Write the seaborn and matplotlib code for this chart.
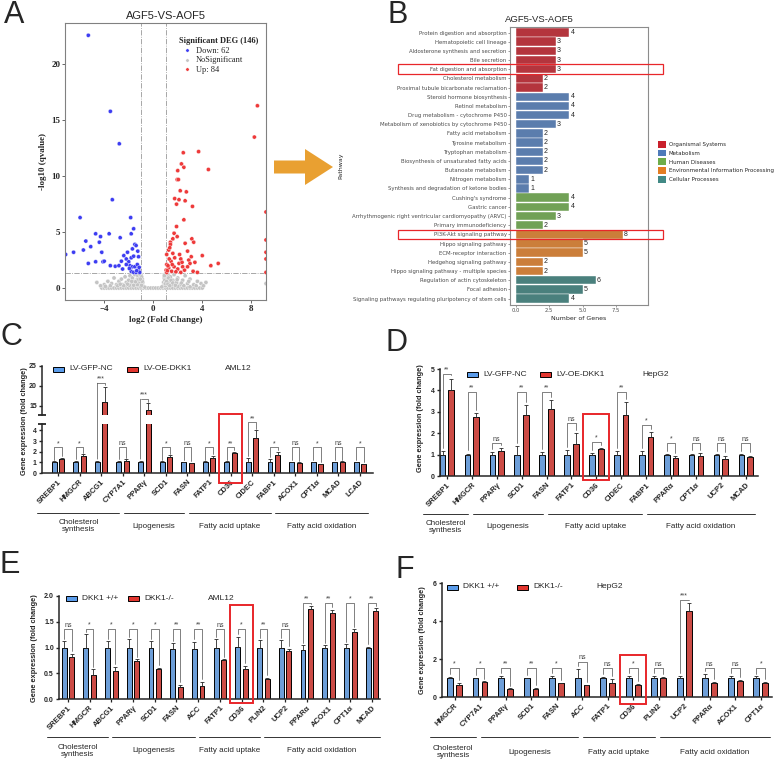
import numpy as np
import pandas as pd
import matplotlib
import matplotlib.pyplot as plt
import matplotlib.transforms as mtransforms
import seaborn as sns
from matplotlib.patches import Rectangle, Patch, FancyArrow, ConnectionPatch
from matplotlib.lines import Line2D

sns.set_style('ticks')
plt.rcParams['font.family'] = ['Liberation Sans', 'DejaVu Sans']


########
# data #
########

# panel A - volcano (log2 fold change, -log10 qvalue)
down_pts = [(-5.3, 22.6), (-3.5, 15.8), (-2.77, 12.9), (-3.34, 7.9), (-5.97, 6.3), (-1.84, 6.3),
            (-1.6, 5.3), (-4.7, 4.85), (-3.6, 4.85), (-4.3, 4.6), (-5.5, 4.2), (-4.4, 4.1),
            (-2.7, 4.5), (-1.8, 4.85), (-1.5, 3.9), (-1.4, 3.8), (-6.5, 3.2), (-5.7, 3.4),
            (-5.1, 3.7), (-4.2, 3.2), (-1.7, 3.5), (-2.1, 3.2), (-1.26, 3.3), (-2.4, 2.9),
            (-1.8, 2.7), (-1.6, 2.85), (-1.2, 2.8), (-5.3, 2.2), (-4.7, 2.35), (-4.1, 2.35),
            (-4.0, 2.4), (-2.2, 2.6), (-2.0, 2.35), (-3.5, 2.0), (-3.1, 1.95), (-2.8, 2.0),
            (-2.6, 2.4), (-1.9, 2.0), (-1.7, 1.9), (-1.5, 1.9), (-1.3, 2.1), (-2.5, 1.7),
            (-1.8, 1.5), (-1.6, 1.4), (-1.4, 1.4), (-1.2, 1.6), (-1.1, 1.4), (-7.15, 3.0),
            (-2.2, 2.1), (-1.35, 1.55), (-1.95, 1.75), (-1.15, 1.85)]
up_pts = [(8.5, 16.3), (8.25, 13.5), (3.7, 12.2), (2.45, 12.1), (2.3, 11.1), (2.5, 10.8),
          (2.0, 10.5), (4.5, 10.6), (1.95, 9.7), (2.05, 9.7), (2.2, 8.7), (2.7, 8.6),
          (1.75, 8.0), (2.1, 7.9), (2.6, 7.8), (1.9, 7.5), (3.2, 7.3), (9.2, 6.8),
          (2.5, 6.1), (1.9, 5.5), (1.7, 4.9), (1.95, 4.6), (1.6, 4.4), (3.15, 4.4),
          (3.3, 4.1), (1.4, 4.1), (9.2, 4.3), (1.4, 3.9), (2.8, 3.3), (1.26, 3.4),
          (1.6, 3.1), (4.0, 2.9), (9.2, 3.2), (1.1, 3.0), (1.75, 2.7), (2.25, 2.6),
          (2.9, 2.5), (9.2, 2.6), (1.45, 2.4), (2.1, 2.2), (3.0, 2.2), (5.3, 2.2),
          (4.7, 2.0), (1.1, 2.1), (1.7, 1.9), (2.4, 1.9), (1.26, 1.8), (2.0, 1.7),
          (1.05, 1.6), (1.5, 1.5), (3.25, 1.5), (3.6, 1.4), (9.2, 1.4), (2.25, 1.4),
          (1.1, 1.4), (2.8, 1.9), (3.1, 2.8), (2.6, 4.0), (1.3, 2.6), (1.2, 2.0),
          (1.55, 2.1), (2.35, 2.3), (3.4, 2.3), (1.15, 1.55), (1.85, 1.45), (2.55, 1.6),
          (1.35, 3.6), (2.15, 3.0)]
grey_pts = [(-4.2, 0.0), (-4.0, 0.0), (-3.8, 0.0), (-3.6, 0.0), (-3.4, 0.0), (-3.2, 0.0),
            (-3.0, 0.0), (-2.8, 0.0), (-2.6, 0.0), (-2.4, 0.0), (-2.2, 0.0), (-2.0, 0.0),
            (-1.8, 0.0), (-1.6, 0.0), (-1.4, 0.0), (-1.2, 0.0), (-1.0, 0.0), (-0.8, 0.0),
            (-0.6, 0.0), (-0.4, 0.0), (-0.2, 0.0), (0.0, 0.0), (0.2, 0.0), (0.4, 0.0),
            (0.6, 0.0), (0.8, 0.0), (1.0, 0.0), (1.2, 0.0), (1.4, 0.0), (1.6, 0.0),
            (1.8, 0.0), (2.0, 0.0), (2.2, 0.0), (2.4, 0.0), (2.6, 0.0), (2.8, 0.0),
            (3.0, 0.0), (3.2, 0.0), (3.4, 0.0), (3.6, 0.0), (3.8, 0.0), (4.0, 0.0),
            (-4.6, 0.5), (-4.0, 0.3), (-3.7, 0.6), (-3.4, 0.4), (-3.2, 0.9), (-3.0, 0.3),
            (-2.8, 0.6), (-2.6, 0.8), (-2.5, 0.3), (-2.3, 1.0), (-2.2, 0.5), (-2.0, 0.7),
            (-1.9, 1.1), (-1.8, 0.4), (-1.7, 0.9), (-1.6, 0.6), (-1.5, 1.2), (-1.4, 0.3),
            (-1.3, 0.8), (-1.25, 1.1), (-1.2, 0.5), (-1.15, 0.2), (-1.1, 0.9), (-1.05, 0.6),
            (-1.0, 1.2), (-0.95, 0.4), (-0.9, 0.8), (-0.9, 0.2), (-0.85, 0.5), (-0.8, 0.15),
            (0.8, 0.15), (0.85, 0.5), (0.9, 0.9), (0.9, 0.3), (0.95, 1.2), (1.0, 0.6),
            (1.05, 1.0), (1.1, 0.3), (1.15, 0.8), (1.2, 1.2), (1.3, 0.5), (1.4, 1.0),
            (1.5, 0.3), (1.6, 0.7), (1.7, 1.2), (1.9, 0.5), (2.0, 0.9), (2.2, 0.3),
            (2.4, 0.7), (2.6, 1.1), (2.8, 0.4), (3.0, 0.8), (3.3, 0.3), (3.6, 0.6),
            (3.9, 0.4), (4.3, 0.5), (-3.9, 0.15), (-2.9, 0.2), (-1.95, 0.25), (-1.0, 0.1),
            (1.0, 0.2), (2.0, 0.15), (3.0, 0.1), (-0.7, 0.08), (0.7, 0.1), (-1.1, 1.25),
            (1.05, 1.3), (0.95, 0.7), (-0.95, 1.0), (9.2, 0.4),
            (-1.0, 0.35), (-1.1, 0.55), (-1.2, 0.75), (-1.3, 0.3), (-1.45, 0.55), (-1.6, 0.25),
            (-1.75, 0.6), (-2.1, 0.35), (-2.4, 0.2), (-2.7, 0.35), (-0.9, 0.6), (-0.95, 0.25),
            (1.0, 0.4), (1.1, 0.6), (1.2, 0.35), (1.25, 0.9), (1.35, 0.2), (1.45, 0.7),
            (1.6, 0.45), (1.8, 0.25), (1.95, 0.75), (2.3, 0.45), (2.5, 0.2), (2.9, 0.6),
            (0.9, 1.1), (-1.05, 0.8), (3.5, 0.2), (-3.5, 0.2), (4.1, 0.2), (-4.3, 0.2)]

# panel B - KEGG pathways
b_pathways = ['Protein digestion and absorption', 'Hematopoietic cell lineage',
              'Aldosterone synthesis and secretion', 'Bile secretion',
              'Fat digestion and absorption', 'Cholesterol metabolism',
              'Proximal tubule bicarbonate reclamation', 'Steroid hormone biosynthesis',
              'Retinol metabolism', 'Drug metabolism - cytochrome P450',
              'Metabolism of xenobiotics by cytochrome P450', 'Fatty acid metabolism',
              'Tyrosine metabolism', 'Tryptophan metabolism',
              'Biosynthesis of unsaturated fatty acids', 'Butanoate metabolism',
              'Nitrogen metabolism', 'Synthesis and degradation of ketone bodies',
              "Cushing's syndrome", 'Gastric cancer',
              'Arrhythmogenic right ventricular cardiomyopathy (ARVC)',
              'Primary immunodeficiency', 'PI3K-Akt signaling pathway',
              'Hippo signaling pathway', 'ECM-receptor interaction',
              'Hedgehog signaling pathway', 'Hippo signaling pathway - multiple species',
              'Regulation of actin cytoskeleton', 'Focal adhesion',
              'Signaling pathways regulating pluripotency of stem cells']
b_counts = [4, 3, 3, 3, 3, 2, 2, 4, 4, 4, 3, 2, 2, 2, 2, 2, 1, 1, 4, 4, 3, 2, 8, 5, 5, 2, 2, 6, 5, 4]
b_categories = ['Organismal Systems', 'Metabolism', 'Human Diseases',
                'Environmental Information Processing', 'Cellular Processes']
b_cat_sizes = [7, 11, 4, 5, 3]

# panel C - AML12, LV-GFP-NC vs LV-OE-DKK1
c_genes = ['SREBP1', 'HMGCR', 'ABCG1', 'CYP7A1', 'PPARγ', 'SCD1', 'FASN', 'FATP1', 'CD36',
           'CIDEC', 'FABP1', 'ACOX1', 'CPT1α', 'MCAD', 'LCAD']
c_ctrl = [1.0] * 15
c_ctrl_err = [0.1, 0.12, 0.15, 0.12, 0.15, 0.08, 0.05, 0.08, 0.1, 0.45, 0.35, 0.06, 0.05, 0.05, 0.05]
c_trt = [1.3, 1.6, 16.0, 1.1, 14.0, 1.5, 0.9, 1.4, 1.9, 3.3, 1.65, 0.95, 0.8, 1.0, 0.8]
c_trt_err = [0.15, 0.15, 3.8, 0.2, 1.7, 0.15, 0.08, 0.2, 0.08, 0.7, 0.35, 0.05, 0.05, 0.1, 0.05]
c_sig = ['*', '*', '***', 'ns', '***', '*', 'ns', '*', '**', '**', '*', 'ns', '*', 'ns', '*']
c_brk = [2.4, 2.4, 20.7, 2.4, 16.7, 2.4, 2.4, 2.4, 2.4, 4.75, 2.4, 2.4, 2.4, 2.4, 2.4]

# panel D - HepG2, LV-GFP-NC vs LV-OE-DKK1
d_genes = ['SREBP1', 'HMGCR', 'PPARγ', 'SCD1', 'FASN', 'FATP1', 'CD36', 'CIDEC', 'FABP1',
           'PPARα', 'CPT1α', 'UCP2', 'MCAD']
d_ctrl = [1.0] * 13
d_ctrl_err = [0.15, 0.05, 0.1, 0.38, 0.1, 0.2, 0.08, 0.18, 0.15, 0.03, 0.05, 0.03, 0.03]
d_trt = [4.0, 2.75, 1.15, 2.85, 3.15, 1.5, 1.25, 2.87, 1.8, 0.82, 0.95, 0.8, 0.88]
d_trt_err = [0.55, 0.2, 0.15, 0.45, 0.4, 0.5, 0.05, 0.58, 0.25, 0.1, 0.12, 0.15, 0.07]
d_sig = ['**', '**', 'ns', '**', '**', 'ns', '*', '**', '*', '*', 'ns', 'ns', 'ns']
d_brk = [4.77, 3.94, 1.53, 3.94, 3.94, 2.46, 1.59, 3.94, 2.4, 1.53, 1.53, 1.53, 1.53]

# panel E - AML12, DKK1 +/+ vs DKK1-/-
e_genes = ['SREBP1', 'HMGCR', 'ABCG1', 'PPARγ', 'SCD1', 'FASN', 'ACC', 'FATP1', 'CD36',
           'PLIN2', 'UCP2', 'PPARα', 'ACOX1', 'CPT1α', 'MCAD']
e_ctrl = [0.99, 0.99, 0.99, 1.0, 1.0, 0.98, 0.97, 1.0, 1.01, 1.0, 0.99, 0.95, 1.0, 1.0, 0.99]
e_ctrl_err = [0.13, 0.27, 0.13, 0.16, 0.12, 0.1, 0.14, 0.16, 0.2, 0.14, 0.15, 0.09, 0.04, 0.06, 0.02]
e_trt = [0.81, 0.47, 0.54, 0.73, 0.59, 0.24, 0.25, 0.75, 0.59, 0.39, 0.94, 1.74, 1.67, 1.3, 1.7]
e_trt_err = [0.07, 0.11, 0.09, 0.04, 0.02, 0.04, 0.08, 0.02, 0.06, 0.02, 0.04, 0.06, 0.06, 0.05, 0.06]
e_sig = ['ns', '*', '*', '*', '*', '**', '**', 'ns', '*', '**', 'ns', '**', '**', '*', '**']
e_brk = [1.36] * 11 + [1.87] * 4

# panel F - HepG2, DKK1 +/+ vs DKK1-/-
f_genes = ['HMGCR', 'CYP7A1', 'PPARγ', 'SCD1', 'FASN', 'ACC', 'FATP1', 'CD36', 'PLIN2',
           'UCP2', 'PPARα', 'ACOX1', 'CPT1α']
f_ctrl = [1.0, 1.0, 1.0, 1.0, 1.0, 1.0, 1.02, 1.0, 1.0, 1.0, 1.0, 1.0, 1.0]
f_ctrl_err = [0.05, 0.02, 0.1, 0.01, 0.12, 0.5, 0.04, 0.12, 0.1, 0.1, 0.2, 0.1, 0.08]
f_trt = [0.65, 0.77, 0.4, 0.43, 0.72, 0.62, 0.72, 0.65, 1.02, 4.55, 0.75, 0.85, 0.72]
f_trt_err = [0.07, 0.05, 0.05, 0.04, 0.02, 0.0, 0.23, 0.03, 0.03, 0.4, 0.05, 0.03, 0.06]
f_sig = ['*', '*', '**', '**', '*', 'ns', 'ns', '*', 'ns', '***', 'ns', 'ns', '*']
f_brk = [1.53, 1.53, 1.53, 1.53, 1.53, 1.86, 1.53, 1.53, 1.53, 5.1, 1.53, 1.53, 1.53]

chol, lipo, upt, oxi = 'Cholesterol\nsynthesis', 'Lipogenesis', 'Fatty acid uptake', 'Fatty acid oxidation'
c_groups = [(chol, 0, 3), (lipo, 4, 6), (upt, 7, 10), (oxi, 11, 14)]
d_groups = [(chol, 0, 1), (lipo, 2, 4), (upt, 5, 8), (oxi, 9, 12)]
e_groups = [(chol, 0, 2), (lipo, 3, 6), (upt, 7, 9), (oxi, 10, 14)]
f_groups = [(chol, 0, 1), (lipo, 2, 5), (upt, 6, 8), (oxi, 9, 12)]


###########
# helpers #
###########

W, H = 775, 764
BLUE, RED, BOX = '#5B9CEA', '#E2362F', '#E8262A'
fig = plt.figure(figsize=(W / 100, H / 100), dpi=100)


def fx(x):
    return x / W


def fy(y):
    return 1 - y / H


def add_ax(l, t, r, b):
    return fig.add_axes([fx(l), fy(b), (r - l) / W, (b - t) / H])


def blend(ax):
    return mtransforms.blended_transform_factory(ax.transData, fig.transFigure)


def draw_bars(ax, genes, ctrl, ctrl_e, trt, trt_e):
    n = len(genes)
    df = pd.DataFrame({'gene': genes + genes, 'grp': ['ctrl'] * n + ['trt'] * n, 'val': ctrl + trt})
    sns.barplot(data=df, x='gene', y='val', hue='grp', hue_order=['ctrl', 'trt'],
                palette=[BLUE, RED], width=0.7, gap=0.35, edgecolor='black', linewidth=0.7,
                errorbar=None, legend=False, ax=ax)
    xs = [p.get_x() + p.get_width() / 2 for p in ax.patches[:2 * n]]
    for x, v, e in zip(xs, ctrl + trt, ctrl_e + trt_e):
        ax.errorbar(x, v, yerr=[[0], [e]], fmt='none', ecolor='0.15', elinewidth=0.6,
                    capsize=1.3, capthick=0.6)
    return xs[:n], xs[n:]


def sig_label(ax, x, h, lab):
    ax.annotate(lab, (x, h), xytext=(0, 0.3), textcoords='offset points', ha='center',
                va='bottom', fontsize=5, color='0.25', annotation_clip=False)


def brackets(ax, xl, xr, ctrl, ctrl_e, trt, trt_e, sig, brk, off):
    for i in range(len(sig)):
        yl = ctrl[i] + ctrl_e[i] + off
        yr = trt[i] + trt_e[i] + off
        ax.plot([xl[i], xl[i], xr[i], xr[i]], [yl, brk[i], brk[i], yr], color='0.3', lw=0.5,
                clip_on=False)
        sig_label(ax, (xl[i] + xr[i]) / 2, brk[i], sig[i])


def style_bar_ax(ax, xlim, ylim, yticks, ytl=None, bottom=True):
    ax.set_xlim(*xlim)
    ax.set_ylim(*ylim)
    ax.set_yticks(yticks)
    if ytl is not None:
        ax.set_yticklabels(ytl)
    sns.despine(ax=ax, bottom=not bottom)
    for s in ['left', 'bottom']:
        ax.spines[s].set_linewidth(1.1)
    ax.set_xlabel('')
    ax.set_ylabel('')
    ax.tick_params(axis='y', length=2.5, width=1.0, pad=1.2, labelsize=5)
    for t in ax.get_yticklabels():
        t.set_fontweight('bold')
    if bottom:
        ax.tick_params(axis='x', length=2.5, width=0.9, pad=1.5)
        ax.set_xticklabels(ax.get_xticklabels(), rotation=45, ha='right', rotation_mode='anchor',
                           fontsize=5.5, fontweight='bold')
    else:
        ax.set_xticks([])


def groups_under(ax, groups, yline, ylab):
    tr = blend(ax)
    for k, (lab, a, b) in enumerate(groups):
        lo = a - 0.95
        hi = b - 0.15 if k < len(groups) - 1 else b + 0.35
        fig.add_artist(Line2D([lo, hi], [fy(yline)] * 2, transform=tr, color='0.2', lw=0.7))
        ax.text((lo + hi) / 2, fy(ylab), lab, transform=tr, ha='center', va='center',
                fontsize=5.8, linespacing=1.15, clip_on=False)


def cd36_box(ax, idx, ytop, ybot):
    fig.add_artist(Rectangle((idx - 0.52, fy(ybot)), 1.04, fy(ytop) - fy(ybot), transform=blend(ax),
                             fill=False, ec=BOX, lw=1.4))


def key_row(y, items, cell, cell_x):
    for x, color, lab in items:
        fig.add_artist(Rectangle((fx(x), fy(y + 2.5)), 11 / W, 5 / H, transform=fig.transFigure,
                                 fc=color, ec='black', lw=0.7))
        fig.text(fx(x + 16), fy(y), lab, va='center', fontsize=6)
    fig.text(fx(cell_x), fy(y), cell, va='center', fontsize=6)


def ylab(x, y, text):
    fig.text(fx(x), fy(y), text, rotation=90, ha='center', va='center', fontsize=5.3,
             fontweight='bold')


def letter(x, y, s):
    fig.text(fx(x), fy(y), s, fontsize=22, va='top', ha='left')


####################
# A: volcano plot  #
####################

axa = add_ax(65, 23, 266, 300)
df_a = pd.DataFrame([(x, y, 'NoSignificant') for x, y in grey_pts]
                    + [(x, y, 'Down: 62') for x, y in down_pts]
                    + [(x, y, 'Up: 84') for x, y in up_pts], columns=['lfc', 'q', 'type'])
sns.scatterplot(data=df_a, x='lfc', y='q', hue='type', hue_order=['Down: 62', 'NoSignificant', 'Up: 84'],
                palette=['#3D3DF2', '#C4C4C4', '#EE3A3A'], s=9, linewidth=0.25, edgecolor='white', ax=axa)
for xv in (-1, 1):
    axa.axvline(xv, ls='-.', color='0.6', lw=0.6, zorder=0)
axa.axhline(-np.log10(0.05), ls='-.', color='0.6', lw=0.6, zorder=0)
axa.set_xlim(-7.2, 9.2)
axa.set_ylim(-1.07, 23.7)
axa.set_xticks([-4, 0, 4, 8])
axa.set_yticks([0, 5, 10, 15, 20])
serif = 'Liberation Serif'
for t in axa.get_xticklabels() + axa.get_yticklabels():
    t.set_fontfamily(serif)
    t.set_fontweight('bold')
    t.set_fontsize(6.5)
axa.tick_params(length=2, width=0.6, pad=1.5, color='0.3')
for s in axa.spines.values():
    s.set_color('0.5')
    s.set_linewidth(0.8)
axa.set_xlabel('log2 (Fold Change)', family=serif, weight='bold', fontsize=6.5, labelpad=2)
axa.set_ylabel('-log10 (qvalue)', family=serif, weight='bold', fontsize=6.5, labelpad=3)
axa.set_title('AGF5-VS-AOF5', fontsize=8, pad=3)
h_a, l_a = axa.get_legend_handles_labels()
axa.legend(h_a, l_a, title='Significant DEG (146)', loc='upper right', bbox_to_anchor=(0.99, 0.97),
           frameon=False, prop={'family': serif, 'size': 6},
           title_fontproperties={'family': serif, 'weight': 'bold', 'size': 6},
           handletextpad=0.05, labelspacing=0.2, markerscale=0.8, alignment='left', borderpad=0.2)

fig.add_artist(FancyArrow(fx(274), fy(167), fx(333) - fx(274), 0, width=13 / H, head_width=36 / H,
                          head_length=28 / W, length_includes_head=True, transform=fig.transFigure,
                          color='#E9A031', lw=0))


######################
# B: pathway barplot #
######################

b_cat = [c for c, k in zip(b_categories, b_cat_sizes) for _ in range(k)]
df_b = pd.DataFrame({'pathway': b_pathways, 'count': b_counts, 'category': b_cat})
b_pal = ['#C9202B', '#4E7BBA', '#6EAD4A', '#E37D22', '#418985']
axb = add_ax(510, 27, 648, 305)
sns.barplot(data=df_b, y='pathway', x='count', hue='category', hue_order=b_categories, order=b_pathways,
            palette=b_pal, dodge=False, width=0.92, edgecolor='white', linewidth=0.3, legend=False, ax=axb)
for i, v in enumerate(b_counts):
    axb.text(v + 0.08, i, str(v), va='center', ha='left', fontsize=5, color='0.15')
axb.set_xlim(-0.45, 9.9)
axb.set_ylim(29.7, -0.6)
axb.set_xticks([0, 2.5, 5.0, 7.5])
axb.set_xticklabels(['0.0', '2.5', '5.0', '7.5'])
grey_txt = '#4D4D4D'
axb.tick_params(axis='y', labelsize=3.85, length=1.5, width=0.4, pad=1, colors=grey_txt)
axb.tick_params(axis='x', labelsize=3.8, length=1.5, width=0.4, pad=1, colors=grey_txt)
for t in axb.get_yticklabels() + axb.get_xticklabels():
    t.set_fontfamily('DejaVu Sans')
for s in axb.spines.values():
    s.set_color('0.55')
    s.set_linewidth(0.8)
axb.set_xlabel('Number of Genes', family='DejaVu Sans', fontsize=4.5, color='0.15', labelpad=2)
axb.set_ylabel('Pathway', family='DejaVu Sans', fontsize=4.5, color='0.15')
axb.yaxis.set_label_coords((343 - 510) / 138, 0.5)
fig.text(fx(539), fy(20), 'AGF5-VS-AOF5', ha='center', va='center', fontsize=6.8)
fig.legend(handles=[Patch(fc=c, ec='none') for c in b_pal], labels=b_categories, loc='upper left',
           bbox_to_anchor=(fx(658), fy(141)), frameon=False, prop={'family': 'DejaVu Sans', 'size': 4.0},
           handlelength=1.5, handleheight=1.5, handletextpad=0.4, labelspacing=0.35,
           borderaxespad=0, borderpad=0)
for row in ('Fat digestion and absorption', 'PI3K-Akt signaling pathway'):
    i = b_pathways.index(row)
    tr = mtransforms.blended_transform_factory(fig.transFigure, axb.transData)
    fig.add_artist(Rectangle((fx(398), i + 0.52), fx(663) - fx(398), -1.04, transform=tr,
                             fill=False, ec=BOX, lw=0.9))


##############################
# C: AML12 overexpression    #
##############################

axc_lo = add_ax(42, 424, 373, 473)
axc_hi = add_ax(42, 366, 373, 415)
xl, xr = draw_bars(axc_lo, c_genes, c_ctrl, c_ctrl_err, c_trt, c_trt_err)
draw_bars(axc_hi, c_genes, c_ctrl, c_ctrl_err, c_trt, c_trt_err)
c_xlim = (-0.74, 14.6)
style_bar_ax(axc_lo, c_xlim, (0, 4.6), [0, 1, 2, 3, 4])
style_bar_ax(axc_hi, c_xlim, (12.75, 25), [15, 20, 25], bottom=False)
axc_lo.plot([c_xlim[0]], [4.6], marker='_', ms=6, mew=1.1, color='k', clip_on=False)
axc_hi.plot([c_xlim[0]], [12.75], marker='_', ms=6, mew=1.1, color='k', clip_on=False)
for i in range(len(c_genes)):
    yl = c_ctrl[i] + c_ctrl_err[i] + 0.15
    yr = c_trt[i] + c_trt_err[i]
    h = c_brk[i]
    if h > 10:
        fig.add_artist(ConnectionPatch(xyA=(xl[i], yl), coordsA=axc_lo.transData, xyB=(xl[i], h),
                                       coordsB=axc_hi.transData, color='0.3', lw=0.5))
        axc_hi.plot([xl[i], xr[i], xr[i]], [h, h, yr + 0.4], color='0.3', lw=0.5, clip_on=False)
        sig_label(axc_hi, i, h, c_sig[i])
    else:
        axc_lo.plot([xl[i], xl[i], xr[i], xr[i]], [yl, h, h, yr + 0.15], color='0.3', lw=0.5,
                    clip_on=False)
        sig_label(axc_lo, i, h, c_sig[i])
groups_under(axc_lo, c_groups, 513, 526)
cd36_box(axc_lo, c_genes.index('CD36'), 414, 483)
key_row(369, [(53, BLUE, 'LV-GFP-NC'), (127, RED, 'LV-OE-DKK1')], 'AML12', 225)
ylab(25, 421, 'Gene expression (fold change)')


##############################
# D: HepG2 overexpression    #
##############################

axd = add_ax(440, 369, 758, 476)
xl, xr = draw_bars(axd, d_genes, d_ctrl, d_ctrl_err, d_trt, d_trt_err)
style_bar_ax(axd, (-0.28, 12.49), (0, 5), [0, 1, 2, 3, 4, 5])
brackets(axd, xl, xr, d_ctrl, d_ctrl_err, d_trt, d_trt_err, d_sig, d_brk, 0.15)
groups_under(axd, d_groups, 514, 527)
cd36_box(axd, d_genes.index('CD36'), 414, 480)
key_row(374, [(467, BLUE, 'LV-GFP-NC'), (540, RED, 'LV-OE-DKK1')], 'HepG2', 642)
ylab(420, 418, 'Gene expression (fold change)')


##############################
# E: AML12 knockout          #
##############################

axe = add_ax(59, 596, 380, 699)
xl, xr = draw_bars(axe, e_genes, e_ctrl, e_ctrl_err, e_trt, e_trt_err)
style_bar_ax(axe, (-0.41, 14.37), (0, 2), [0, 0.5, 1.0, 1.5, 2.0], ['0.0', '0.5', '1.0', '1.5', '2.0'])
brackets(axe, xl, xr, e_ctrl, e_ctrl_err, e_trt, e_trt_err, e_sig, e_brk, 0.05)
groups_under(axe, e_groups, 737, 751)
cd36_box(axe, e_genes.index('CD36'), 605, 703)
key_row(598, [(66, BLUE, 'DKK1 +/+'), (128, RED, 'DKK1-/-')], 'AML12', 208)
ylab(35, 648, 'Gene expression (fold change)')


##############################
# F: HepG2 knockout          #
##############################

axf = add_ax(442, 583, 772, 697)
xl, xr = draw_bars(axf, f_genes, f_ctrl, f_ctrl_err, f_trt, f_trt_err)
style_bar_ax(axf, (-0.49, 12.44), (0, 6), [0, 2, 4, 6])
brackets(axf, xl, xr, f_ctrl, f_ctrl_err, f_trt, f_trt_err, f_sig, f_brk, 0.15)
groups_under(axf, f_groups, 737, 752)
cd36_box(axf, f_genes.index('CD36'), 655, 704)
key_row(587, [(447, BLUE, 'DKK1 +/+'), (517, RED, 'DKK1-/-')], 'HepG2', 596)
ylab(422, 640, 'Gene expression (fold change)')

letter(4, 0, 'A')
letter(387, 0, 'B')
letter(1, 322, 'C')
letter(386, 328, 'D')
letter(0, 550, 'E')
letter(396, 555, 'F')

fig.savefig('out.png', dpi=100)
